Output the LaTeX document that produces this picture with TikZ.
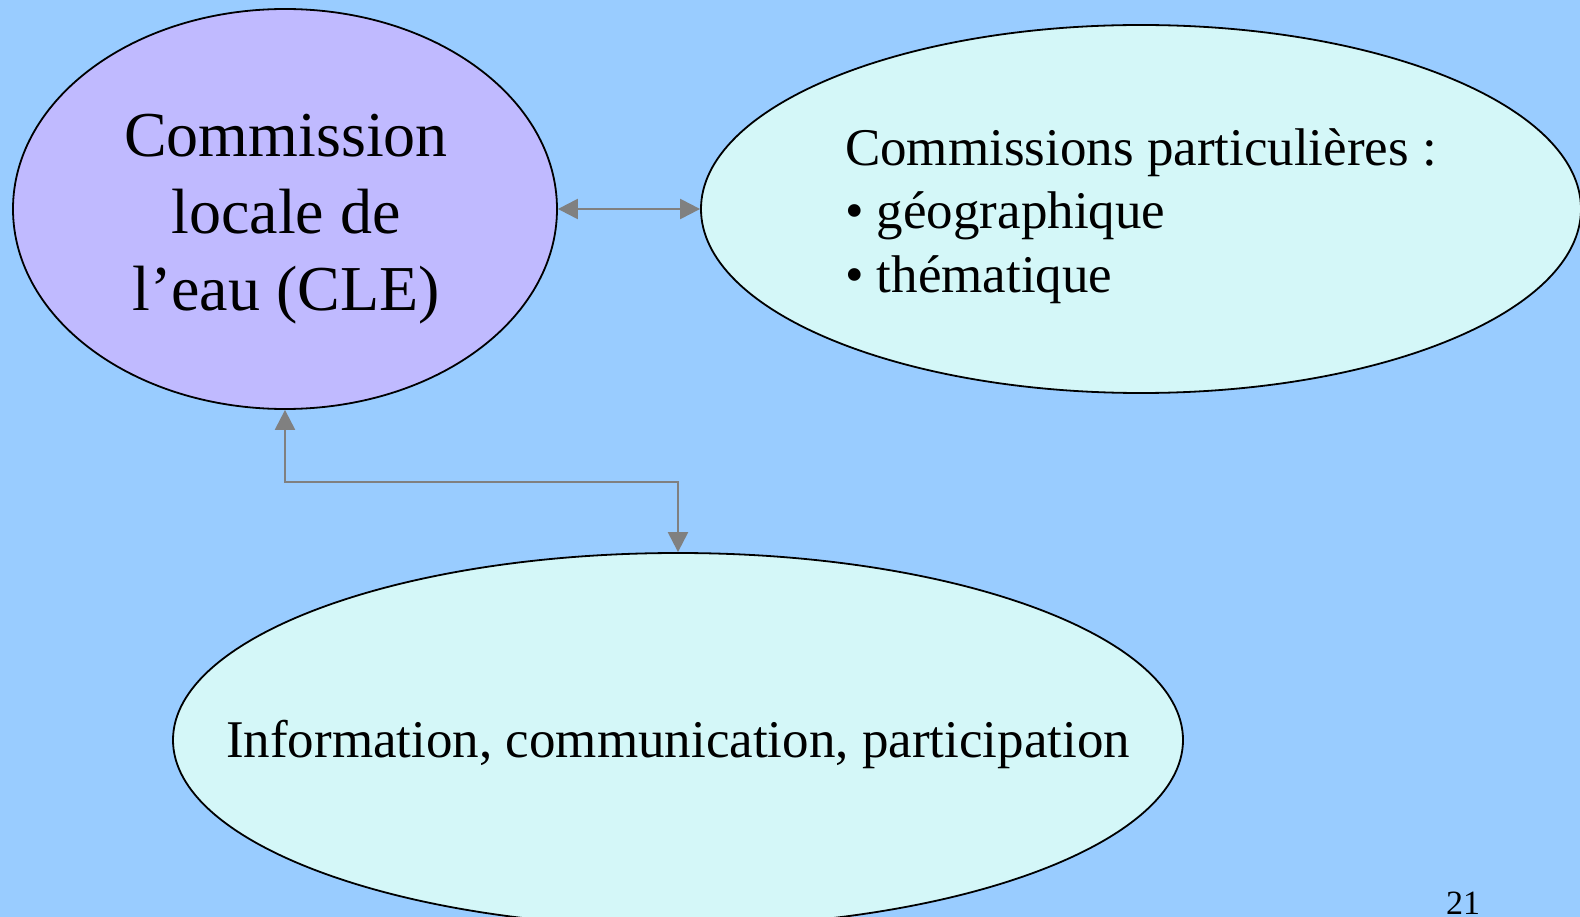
\documentclass[tikz,border=0pt]{standalone}
\usepackage{fontspec}
\setmainfont{Liberation Serif}
\usetikzlibrary{shapes.geometric,arrows.meta}
\definecolor{bgblue}{RGB}{153,204,255}
\definecolor{lavender}{RGB}{192,186,255}
\definecolor{paleaqua}{RGB}{212,247,248}
\definecolor{arrowgray}{RGB}{128,128,128}
\tikzset{
  bubble/.style={ellipse, draw=black, line width=1.8pt, inner sep=0pt},
  link/.style={draw=arrowgray, line width=2.2pt, {Triangle[length=20pt,width=20pt]}-{Triangle[length=20pt,width=20pt]}},
}
\begin{document}
\begin{tikzpicture}[x=1pt,y=1pt]
\useasboundingbox (0,0) rectangle (1580,-917);
\clip (0,0) rectangle (1580,-917);
\fill[bgblue] (0,0) rectangle (1580,-917);
\node[bubble, fill=lavender, minimum width=544pt, minimum height=400pt] (cle) at (285,-209) {};
\node[align=center, font=\fontsize{64}{77}\selectfont] (cletext) at (286,-219)
  {Commission\\locale de\\l’eau (CLE)};
\node[bubble, fill=paleaqua, minimum width=880pt, minimum height=368pt] (cp) at (1141,-209) {};
\node[align=left, font=\fontsize{53}{63.5}\selectfont] (cptext) at (1141,-216)
  {Commissions particulières :\\• géographique\\• thématique};
\node[bubble, fill=paleaqua, minimum width=1010pt, minimum height=374pt] (info) at (678,-740) {};
\node[font=\fontsize{53}{60}\selectfont] (infotext) at (678,-744)
  {Information, communication, participation};
\node[font=\fontsize{34}{40}\selectfont] (num) at (1463,-903) {21};
\draw[link] (cle.east) -- (cp.west);
\coordinate (bend) at (cle.south |- 0,-482);
\draw[link] (cle.south) -- (bend) -| (info.north);
\end{tikzpicture}
\end{document}
